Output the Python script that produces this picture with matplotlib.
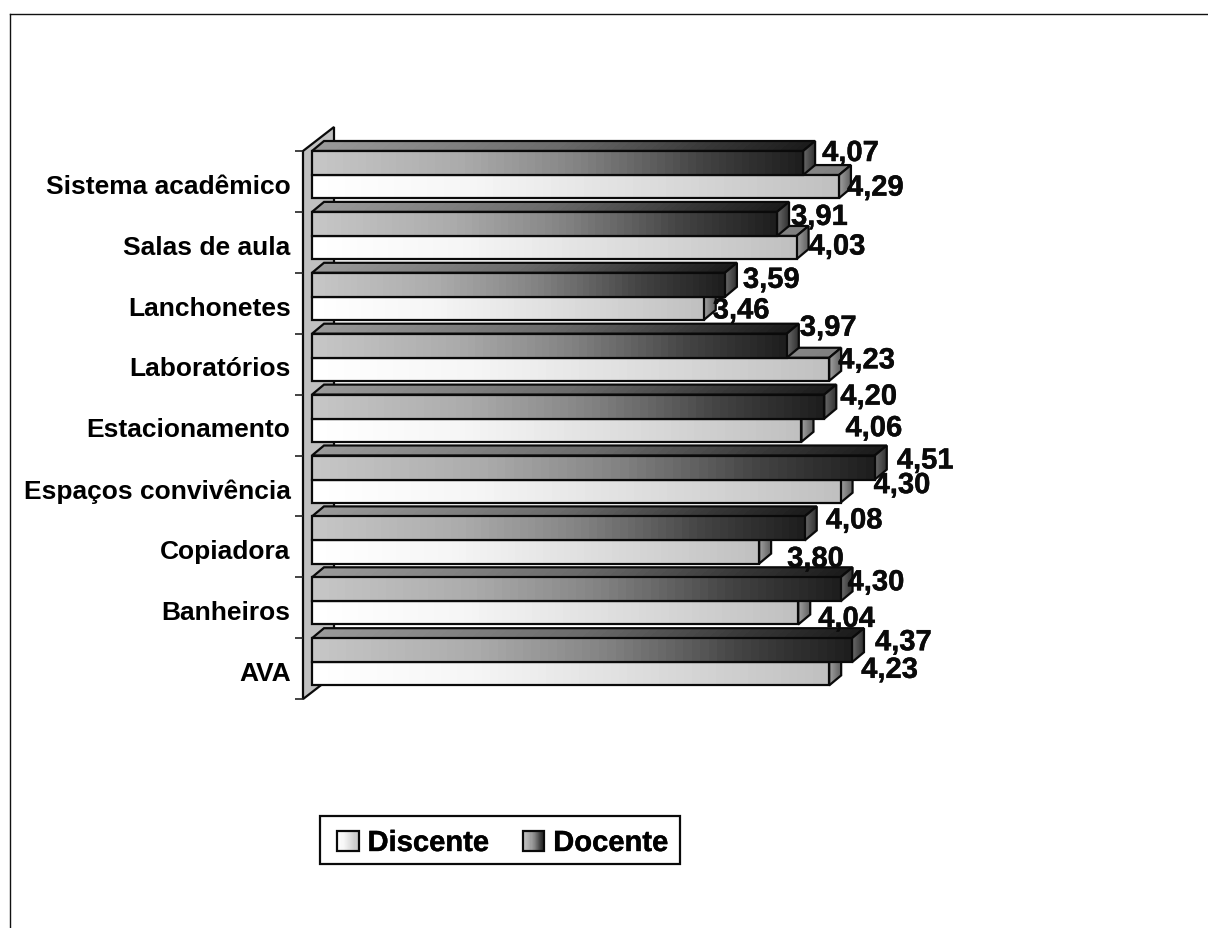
import numpy as np
import matplotlib
matplotlib.use("Agg")
import matplotlib.pyplot as plt
import matplotlib.patheffects as pe
from matplotlib.colors import LinearSegmentedColormap as LSC
from matplotlib.legend_handler import HandlerBase
from matplotlib.lines import Line2D
from matplotlib.patches import Polygon, Rectangle

categories = ["Sistema acadêmico", "Salas de aula", "Lanchonetes", "Laboratórios",
              "Estacionamento", "Espaços convivência", "Copiadora", "Banheiros", "AVA"]
docente = [4.07, 3.91, 3.59, 3.97, 4.20, 4.51, 4.08, 4.30, 4.37]
discente = [4.29, 4.03, 3.46, 4.23, 4.06, 4.30, 3.80, 4.04, 4.23]

# label offsets from bar end, in pixels (dx, dy down)
doc_off = [(19, -10), (14, -7), (18, -5), (13, -18), (16, -10), (22, -7), (21, -8), (7, -7), (23, -8)]
dis_off = [(8, 1), (12, -1), (9, 2), (9, -9), (44, -2), (33, -6), (28, 7), (20, 6), (32, -4)]

W, H = 1208, 929
PXX, PXY = 162.9, 60.9      # pixels per x unit / per category
L, T, B, R = 303, 152, 700.1, 1000
plt.rcParams['font.family'] = ['Liberation Sans', 'DejaVu Sans']
plt.rcParams['font.weight'] = 'bold'

fig = plt.figure(figsize=(W / 100, H / 100), dpi=100, facecolor='white')
ax = fig.add_axes([L / W, 1 - B / H, (R - L) / W, (B - T) / H])
ax.set_xlim(1, 1 + (R - L) / PXX)
ax.set_ylim(9, 0)
for s in ax.spines.values():
    s.set_visible(False)
ax.patch.set_alpha(0)
ax.xaxis.set_visible(False)

ax.set_yticks(np.arange(10))
ax.set_yticklabels([])
ax.set_yticks(np.arange(9) + 0.53, categories, minor=True, fontsize=19, fontweight='bold')
ax.tick_params(axis='y', which='major', length=5.5, width=1.2, color='#222222')
ax.tick_params(axis='y', which='minor', length=0, pad=9)

DX, DY = 12 / PXX, 10 / PXY
BASE = 1 + 9 / PXX
EDGE = dict(edgecolor='#0a0a0a', linewidth=1.6, joinstyle='miter')

# side wall
wx, wy = 31 / PXX, 24 / PXY
ax.add_patch(Polygon([(1, 0), (1 + wx, -wy), (1 + wx, 9 - wy), (1, 9)], closed=True,
                     facecolor='#c0c0c0', clip_on=False, zorder=1, **EDGE))

front_doc = LSC.from_list('fd', [(0, '#c6c6c6'), (.3, '#ababab'), (.55, '#828282'), (.8, '#434343'), (1, '#1e1e1e')])
top_doc = LSC.from_list('td', [(0, '#9a9a9a'), (.5, '#6a6a6a'), (.8, '#383838'), (1, '#1c1c1c')])
side_doc = LSC.from_list('sd', [(0, '#6a6a6a'), (1, '#303030')])
front_dis = LSC.from_list('fs', [(0, '#ffffff'), (.3, '#f6f6f6'), (.6, '#e0e0e0'), (1, '#c0c0c0')])
top_dis = LSC.from_list('ts', [(0, '#d0d0d0'), (1, '#808080')])
side_dis = LSC.from_list('ss', [(0, '#a0a0a0'), (1, '#606060')])


def quad(p00, p10, p01, p11, cmap, z):
    """Gradient-filled quad; gradient runs from the p00/p01 edge to the p10/p11 edge."""
    n = 64
    s = np.linspace(0, 1, n + 1)
    X = np.vstack([p00[0] + (p10[0] - p00[0]) * s, p01[0] + (p11[0] - p01[0]) * s])
    Y = np.vstack([p00[1] + (p10[1] - p00[1]) * s, p01[1] + (p11[1] - p01[1]) * s])
    C = np.linspace(0, 1, n)[None, :]
    ax.pcolormesh(X, Y, C, cmap=cmap, vmin=0, vmax=1, shading='flat', clip_on=False,
                  zorder=z, antialiased=False, linewidth=0)
    ax.add_patch(Polygon([p00, p10, p11, p01], closed=True, fill=False, clip_on=False,
                         zorder=z + 0.01, **EDGE))


def bar3d(v, y0, y1, cf, ct, cs, z):
    quad((BASE + DX, y0 - DY), (v + DX, y0 - DY), (BASE, y0), (v, y0), ct, z)
    quad((v, y0), (v + DX, y0 - DY), (v, y1), (v + DX, y1 - DY), cs, z + .02)
    quad((BASE, y0), (v, y0), (BASE, y1), (v, y1), cf, z + .04)


H1, H2 = 0.395, 0.775
stroke = [pe.withStroke(linewidth=0.3, foreground='#0a0a0a')]
for i in range(len(categories)):
    z = 2 + i
    bar3d(discente[i], i + H1, i + H2, front_dis, top_dis, side_dis, z)
    bar3d(docente[i], i, i + H1, front_doc, top_doc, side_doc, z + .2)
    for v, off, yc in ((docente[i], doc_off[i], i + H1 / 2), (discente[i], dis_off[i], i + (H1 + H2) / 2)):
        ax.annotate(f"{v:.2f}".replace('.', ','), (v, yc),
                    xytext=(off[0] * .72, -off[1] * .72), textcoords='offset points',
                    ha='left', va='center', fontsize=21, fontweight='bold',
                    color='#0a0a0a', zorder=50, annotation_clip=False, path_effects=stroke)


class GradHandler(HandlerBase):
    def __init__(self, cmap):
        super().__init__()
        self.cmap = cmap

    def create_artists(self, legend, orig, xd, yd, width, height, fs, trans):
        n = 20
        out = [Rectangle((-xd + width * k / n, -yd), width / n, height,
                         facecolor=self.cmap((k + .5) / n), edgecolor='none', transform=trans)
               for k in range(n)]
        out.append(Rectangle((-xd, -yd), width, height, fill=False, edgecolor='#0a0a0a',
                             linewidth=1.6, transform=trans))
        return out


ax.add_patch(Rectangle((320 / W, 1 - 865 / H), 360 / W, 48 / H, transform=fig.transFigure,
                       facecolor='white', edgecolor='#0a0a0a', linewidth=1.6, zorder=55,
                       clip_on=False))
h1, h2 = Rectangle((0, 0), 1, 1), Rectangle((0, 0), 1, 1)
leg = ax.legend([h1, h2], ["Discente", "Docente"], ncol=2,
                handler_map={h1: GradHandler(front_dis), h2: GradHandler(front_doc)},
                loc='center', bbox_to_anchor=(502.5 / W, 1 - 844 / H),
                bbox_transform=fig.transFigure, fontsize=21, frameon=False,
                handlelength=0.74, handleheight=0.7,
                handletextpad=0.3, columnspacing=1.17, borderpad=0.36, borderaxespad=0)
leg.set_zorder(60)
for t in leg.get_texts():
    t.set_path_effects(stroke)

# chart frame
for xs, ys in (((10, 10), (14.5, H)), ((10, W), (14.5, 14.5))):
    fig.add_artist(Line2D([x / W for x in xs], [1 - y / H for y in ys], color='#111111', lw=1.0))

fig.savefig("out.png", dpi=100)
